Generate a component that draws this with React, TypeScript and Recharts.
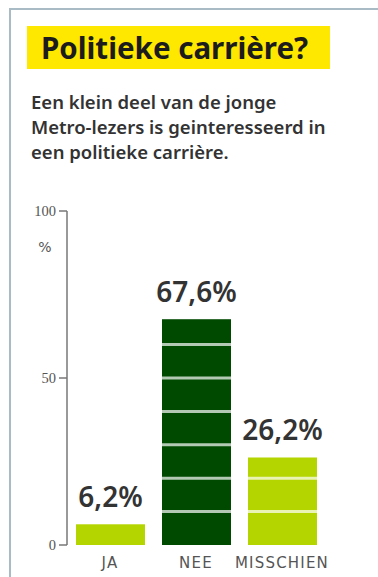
import React from 'react';
import { BarChart, Bar, XAxis, YAxis, LabelList, Cell } from 'recharts';

const categories = ['JA', 'NEE', 'MISSCHIEN'];
const values = [6.2, 67.6, 26.2];
const barColors = ['#b5d500', '#004a00', '#b5d500'];
const yTicks = [0, 50, 100];

const data = categories.map((c, i) => ({ name: c, value: values[i] }));

const StripedBar = (props: any) => {
  const { x, y, width, height, fill, value } = props;
  const v = Array.isArray(value) ? value[1] - value[0] : value;
  const lines: React.ReactNode[] = [];
  for (let k = 10; k < v; k += 10) {
    const ly = y + height - (height * k) / v;
    lines.push(
      <line key={k} x1={x} x2={x + width} y1={ly} y2={ly} stroke="#ffffff" strokeOpacity={0.7} strokeWidth={3} />
    );
  }
  return (
    <g>
      <rect x={x} y={y} width={width} height={height} fill={fill} />
      {lines}
    </g>
  );
};

const fmt = (v: any) => String(v).replace('.', ',') + '%';

const PercentLabel = (props: any) => {
  const { viewBox } = props;
  return (
    <text x={viewBox.x + viewBox.width - 22} y={viewBox.y + 41} fill="#555" fontSize={14} textAnchor="middle" fontFamily="DejaVu Sans">
      %
    </text>
  );
};

export default function App() {
  return (
    <div style={{ position: 'absolute', left: 0, top: 0, width: 378, height: 577, background: '#fff', overflow: 'hidden' }}>
      <div style={{ position: 'absolute', left: 9, top: 8, width: 400, height: 600, borderLeft: '2px solid #a9bcc6', borderTop: '2px solid #a9bcc6' }} />
      <div style={{ position: 'absolute', left: 27, top: 26, width: 303, height: 43, background: '#ffe800' }} />
      <div style={{ position: 'absolute', left: 41, top: 26, height: 43, lineHeight: '43px', fontFamily: '"Noto Sans", sans-serif', fontWeight: 700, fontSize: 29.5, color: '#1c1c1c', whiteSpace: 'nowrap' }}>
        Politieke carrière?
      </div>
      <div style={{ position: 'absolute', left: 31, top: 89, width: 350, fontFamily: '"Noto Sans", sans-serif', fontWeight: 600, fontSize: 18.5, lineHeight: '25px', color: '#333' }}>
        Een klein deel van de jonge<br />Metro-lezers is geinteresseerd in<br />een politieke carrière.
      </div>
      <div style={{ position: 'absolute', left: 0, top: 0 }}>
        <BarChart width={378} height={577} data={data} margin={{ top: 211, right: 53, bottom: 2, left: 27 }}>
          <XAxis
            dataKey="name"
            height={30}
            axisLine={false}
            tickLine={false}
            tickMargin={6}
            tick={{ fill: '#555', fontSize: 15, letterSpacing: 1.2, fontFamily: '"DejaVu Sans", sans-serif' }}
            interval={0}
          />
          <YAxis
            width={40}
            domain={[0, 100]}
            ticks={yTicks}
            axisLine={{ stroke: '#777', strokeWidth: 1.5 }}
            tickLine={{ stroke: '#777', strokeWidth: 1.5 }}
            tickSize={8}
            tickMargin={3}
            tick={{ fill: '#555', fontSize: 14.5, fontFamily: '"Liberation Serif", serif' }}
            label={<PercentLabel />}
          />
          <Bar dataKey="value" barSize={69} isAnimationActive={false} shape={<StripedBar />}>
            {data.map((d, i) => (
              <Cell key={d.name} fill={barColors[i]} />
            ))}
            <LabelList
              dataKey="value"
              position="top"
              offset={17}
              formatter={fmt}
              style={{ fill: '#333', fontSize: 28, fontWeight: 600, fontFamily: '"Noto Sans", sans-serif' }}
            />
          </Bar>
        </BarChart>
      </div>
    </div>
  );
}
